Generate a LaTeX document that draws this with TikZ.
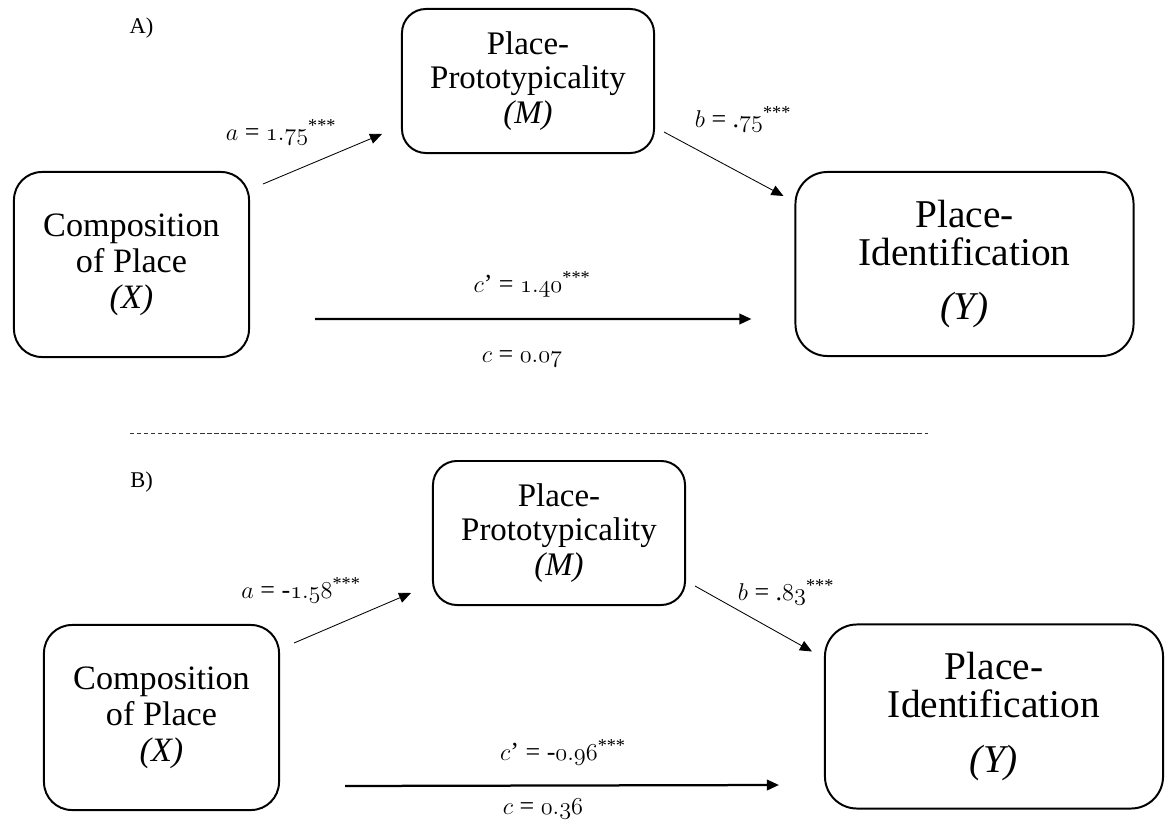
\documentclass[tikz,border=0pt]{standalone}
\usepackage{fontspec}
\setmainfont{Liberation Serif}
\usetikzlibrary{arrows.meta}
\newcommand{\pv}[1]{$\mathnormal{#1}$}
\tikzset{
  varbox/.style ={rectangle, draw, line width=1.4pt, align=center, inner sep=0pt},
  xbox/.style ={varbox, rounded corners=0.7cm, minimum width=5.875cm, minimum height=4.625cm,
                font=\fontsize{24.3}{25.5}\selectfont},
  mbox/.style ={varbox, rounded corners=0.6cm, minimum width=6.3cm, minimum height=3.6cm,
                font=\fontsize{23.4}{24.8}\selectfont},
  ybox/.style ={varbox, rounded corners=0.8cm, minimum width=8.45cm, minimum height=4.6cm,
                font=\fontsize{28}{27}\selectfont},
  coef/.style ={anchor=base, inner sep=0pt, font=\fontsize{18.5}{20}\selectfont},
  panel/.style ={anchor=base, inner sep=0pt, font=\fontsize{16}{18}\selectfont},
  effect/.style ={-{Triangle[length=3mm,width=2.6mm]}, line width=0.6pt},
  direct/.style ={effect, line width=1.6pt},
}
\begin{document}
\begin{tikzpicture}[x=0.025cm, y=-0.025cm]
\useasboundingbox (0,0) rectangle (1166,822);
% panel A
\node[panel] (pa) at (141.5,33) {A)};
\node[xbox] (xa) at (131.5,264.5) {Composition\\ of Place\\ \textit{(X)}};
\node[mbox] (ma) at (528,81) {Place-\\ Prototypicality\\ \textit{(M)}};
\node[ybox] (ya) at (964.5,264) {Place-\\ Identification\\[0.42cm] \textit{(Y)}};
\draw[effect] ([shift={(13,13)}]xa.north east) -- ([shift={(-19,-20)}]ma.south west);
\draw[effect] ([shift={(9,51)}]ma.east) -- ([shift={(-11,25)}]ya.north west);
\draw[direct] ([shift={(65,54.5)}]xa.east) -- ([shift={(-43,55)}]ya.west);
\node[coef] (aa) at (281,140) {$a$ = \pv{1.75}\textsuperscript{***}};
\node[coef] (ba) at (743,127) {$b$ = .\pv{75}\textsuperscript{***}};
\node[coef] (cpa) at (532,292) {$c$' = \pv{1.40}\textsuperscript{***}};
\node[coef] (ca) at (522,362) {$c$ = \pv{0.07}};
% separator
\draw[densely dashed, line width=0.5pt, black!80] (130,433) -- (928,433);
% panel B
\node[panel] (pb) at (141.5,487) {B)};
\node[xbox] (xb) at (161.5,717.5) {Composition\\ of Place\\ \textit{(X)}};
\node[mbox] (mb) at (559,533) {Place-\\ Prototypicality\\ \textit{(M)}};
\node[ybox] (yb) at (994,716.5) {Place-\\ Identification\\[0.42cm] \textit{(Y)}};
\draw[effect] ([shift={(14,19)}]xb.north east) -- ([shift={(-21,-13)}]mb.south west);
\draw[effect] ([shift={(9,53)}]mb.east) -- ([shift={(-12,28)}]yb.north west);
\draw[direct] ([shift={(65,68.5)}]xb.east) -- ([shift={(-45,68.5)}]yb.west);
\node[coef] (ab) at (301,598) {$a$ = -\pv{1.58}\textsuperscript{***}};
\node[coef] (bb) at (786,600) {$b$ = .\pv{83}\textsuperscript{***}};
\node[coef] (cpb) at (563,760) {$c$' = -\pv{0.96}\textsuperscript{***}};
\node[coef] (cb) at (543,814) {$c$ = \pv{0.36}};
\end{tikzpicture}
\end{document}
